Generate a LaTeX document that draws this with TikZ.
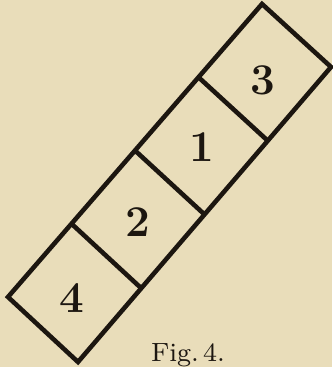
\documentclass[tikz,border=0pt]{standalone}
\usetikzlibrary{calc}
\definecolor{paper}{RGB}{233,221,186}
\definecolor{ink}{RGB}{28,22,16}
\begin{document}
\begin{tikzpicture}[
    cell/.style={line width=1.3pt, draw=ink, line join=miter},
    num/.style={text=ink, font=\fontsize{12.5}{14}\selectfont\bfseries, inner sep=0pt},
    figlabel/.style={text=ink, font=\fontsize{7.5}{9}\selectfont, inner sep=0pt},
]
\fill[paper] (0,0) rectangle (3.32,3.67);
\useasboundingbox (0,0) rectangle (3.32,3.67);

% corners of the strip
\coordinate (L) at (0.08,0.70);
\coordinate (T) at (2.62,3.63);
\coordinate (R) at (3.31,3.00);
\coordinate (B) at (0.78,0.05);

% dividers
\coordinate (d1l) at ($(L)!0.25!(T)$);
\coordinate (d1r) at ($(B)!0.25!(R)$);
\coordinate (d2l) at ($(L)!0.5!(T)$);
\coordinate (d2r) at ($(B)!0.5!(R)$);
\coordinate (d3l) at ($(L)!0.75!(T)$);
\coordinate (d3r) at ($(B)!0.75!(R)$);

\draw[cell] (L) -- (T) -- (R) -- (B) -- cycle;
\draw[cell] (d1l) -- (d1r);
\draw[cell] (d2l) -- (d2r);
\draw[cell] (d3l) -- (d3r);

\node[num] (n3) at (2.63,2.87) {3};
\node[num] (n1) at (2.02,2.20) {1};
\node[num] (n2) at (1.38,1.45) {2};
\node[num] (n4) at (0.72,0.69) {4};

\node[figlabel] (fig) at (1.88,0.12) {Fig.\,4.};
\end{tikzpicture}
\end{document}
